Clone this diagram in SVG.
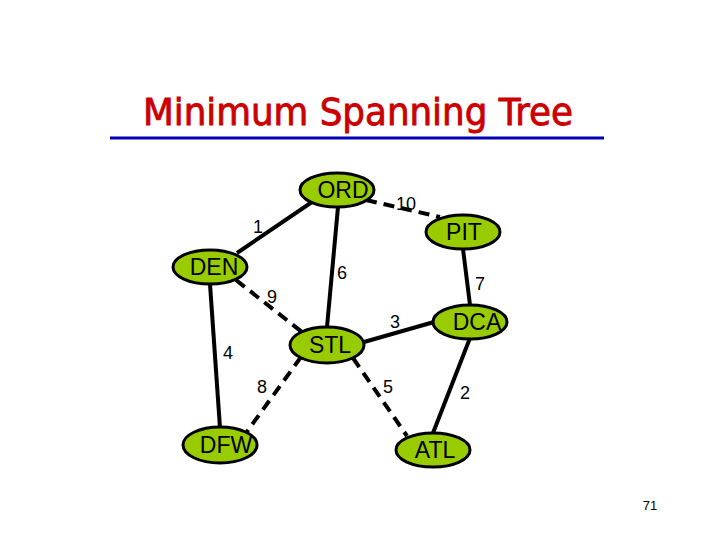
<svg xmlns="http://www.w3.org/2000/svg" width="720" height="540" viewBox="0 0 720 540">
<style>
.node ellipse{fill:#99cc00;stroke:#000;stroke-width:3}
.node text{font-family:"Liberation Sans",Arial,sans-serif;font-size:23px;fill:#000;text-anchor:middle}
.e{stroke:#000;stroke-width:4;fill:none}
.d{stroke-dasharray:11 7}
.w{font-family:"Liberation Sans",Arial,sans-serif;font-size:18px;fill:#000;text-anchor:middle}
</style>
<rect width="720" height="540" fill="#fff"/>
<text x="358" y="125" font-family="'Comic Sans MS','DejaVu Sans',sans-serif" font-size="38" fill="#cc0000" stroke="#cc0000" stroke-width="0.9" text-anchor="middle" textLength="430" lengthAdjust="spacingAndGlyphs">Minimum Spanning Tree</text>
<line x1="110" y1="138" x2="604" y2="138" stroke="#0000b4" stroke-width="3"/>
<g id="connectors">
<line class="e" x1="312" y1="202" x2="237" y2="253"/>
<line class="e d" x1="366" y1="200" x2="440" y2="217"/>
<line class="e" x1="338" y1="207" x2="327" y2="327"/>
<line class="e d" x1="236" y1="280" x2="302" y2="332"/>
<line class="e" x1="210" y1="284" x2="220" y2="428"/>
<line class="e" x1="463" y1="249" x2="470" y2="305"/>
<line class="e" x1="364" y1="342" x2="434" y2="322"/>
<line class="e d" x1="301" y1="357" x2="246" y2="433"/>
<line class="e d" x1="353" y1="358" x2="407" y2="436"/>
<line class="e" x1="470" y1="338" x2="433" y2="433"/>
<text class="w" x="258" y="233">1</text>
<text class="w" x="406" y="210">10</text>
<text class="w" x="342" y="279">6</text>
<text class="w" x="480" y="290">7</text>
<text class="w" x="272" y="303">9</text>
<text class="w" x="395" y="328">3</text>
<text class="w" x="228" y="359">4</text>
<text class="w" x="262" y="393">8</text>
<text class="w" x="388" y="393">5</text>
<text class="w" x="465" y="399">2</text>
</g>
<g id="ORD" class="node"><ellipse cx="337" cy="190" rx="37" ry="17"/><text x="343" y="198">ORD</text></g>
<g id="DEN" class="node"><ellipse cx="210" cy="267" rx="37" ry="17"/><text x="214" y="275">DEN</text></g>
<g id="PIT" class="node"><ellipse cx="463" cy="232" rx="37" ry="17"/><text x="464" y="240">PIT</text></g>
<g id="DCA" class="node"><ellipse cx="470" cy="322" rx="37" ry="17"/><text x="477" y="330">DCA</text></g>
<g id="STL" class="node"><ellipse cx="327" cy="345" rx="37" ry="18"/><text x="330" y="353">STL</text></g>
<g id="DFW" class="node"><ellipse cx="220" cy="445" rx="37" ry="18"/><text x="226" y="453">DFW</text></g>
<g id="ATL" class="node"><ellipse cx="433" cy="450" rx="37" ry="17"/><text x="435" y="458">ATL</text></g>
<text x="650" y="510" font-family="'Liberation Sans',Arial,sans-serif" font-size="13" fill="#000" text-anchor="middle">71</text>
</svg>
